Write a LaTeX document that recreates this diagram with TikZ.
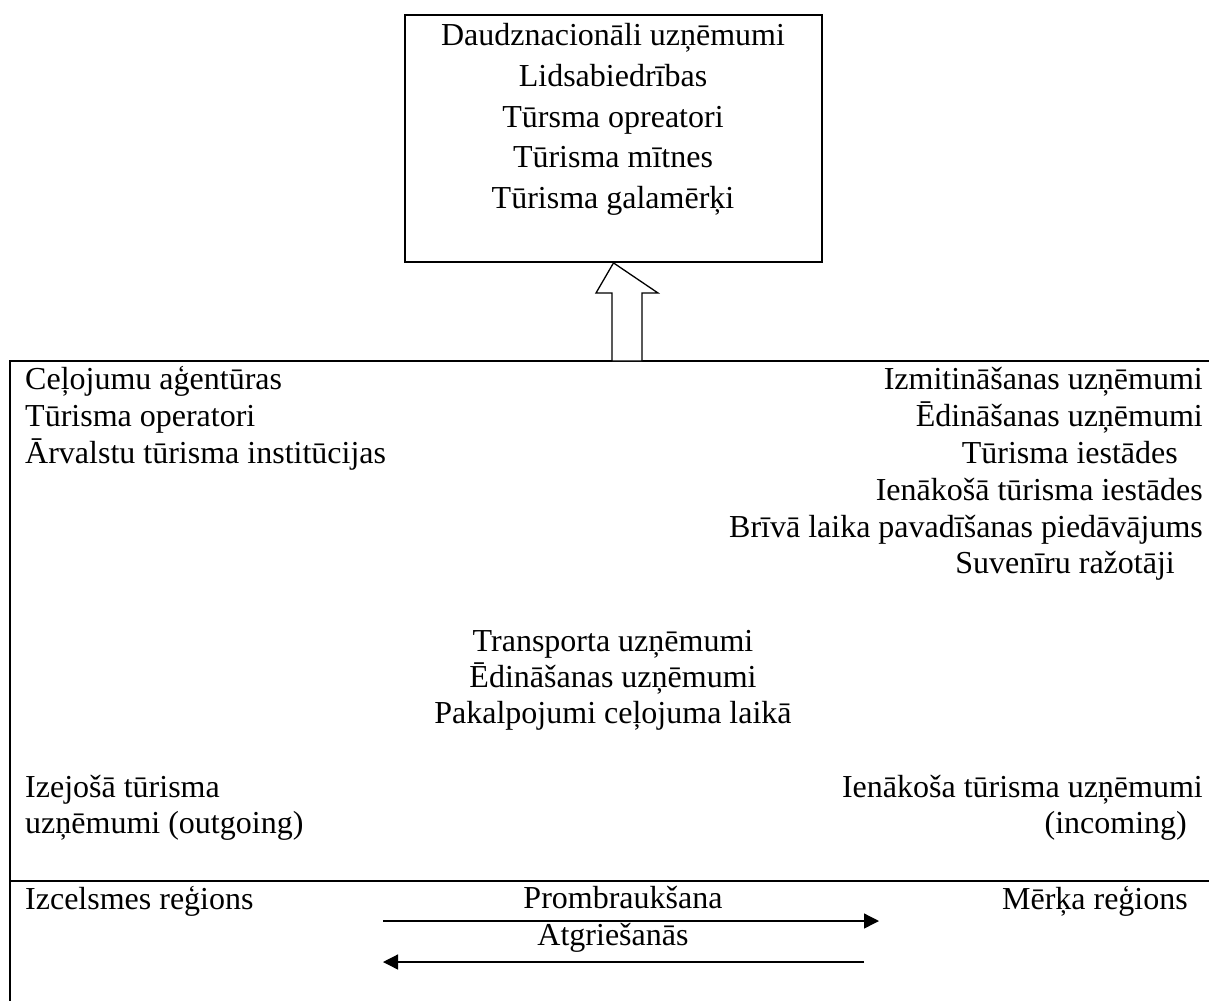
\documentclass[tikz,border=0pt]{standalone}
\usepackage{fontspec}
\setmainfont{Liberation Serif}
\usetikzlibrary{arrows.meta}
\begin{document}
\begin{tikzpicture}[x=1pt,y=-1pt,
  txt/.style={inner sep=0pt, font=\fontsize{32}{38}\selectfont},
  lt/.style={txt, anchor=base west},
  rt/.style={txt, anchor=base east},
  ct/.style={txt, anchor=base},
  frame/.style={line width=1.8pt},
  flow/.style={line width=1.3pt, -{Triangle[length=15pt,width=15pt]}}]
\useasboundingbox (0,0) rectangle (1209,1001);

% top box
\node[draw, frame, minimum width=417pt, minimum height=247pt, inner sep=0pt] (topbox) at (613.5,138.5) {};
\node[ct] (t1) at (613,45) {Daudznacionāli uzņēmumi};
\node[ct] (t2) at (613,86) {Lidsabiedrības};
\node[ct] (t3) at (613,127) {Tūrsma opreatori};
\node[ct] (t4) at (613,167) {Tūrisma mītnes};
\node[ct] (t5) at (613,208) {Tūrisma galamērķi};

% frame lines
\coordinate (ftl) at (10,361);
\coordinate (ftr) at (1209,361);
\coordinate (fbl) at (10,1001);
\coordinate (sl) at (10,881);
\coordinate (sr) at (1209,881);
\draw[frame] (ftr) -- (ftl) -- (fbl);
\draw[frame] (sl) -- (sr);

% block arrow
\draw[line width=1.3pt, fill=white] (612,361) -- (612,293) -- (596,293) -- (topbox.south) -- (658,293) -- (642,293) -- (642,361) -- cycle;

% left column
\node[lt] (l1) at (25,389) {Ceļojumu aģentūras};
\node[lt] (l2) at (25,426) {Tūrisma operatori};
\node[lt] (l3) at (25,463) {Ārvalstu tūrisma institūcijas};

% right column
\node[rt] (r1) at (1203,389) {Izmitināšanas uzņēmumi};
\node[rt] (r2) at (1203,426) {Ēdināšanas uzņēmumi};
\node[rt] (r3) at (1178,463) {Tūrisma iestādes};
\node[rt] (r4) at (1203,500) {Ienākošā tūrisma iestādes};
\node[rt] (r5) at (1203,537) {Brīvā laika pavadīšanas piedāvājums};
\node[rt] (r6) at (1175,573) {Suvenīru ražotāji};

% middle
\node[ct] (m1) at (613,651) {Transporta uzņēmumi};
\node[ct] (m2) at (613,687) {Ēdināšanas uzņēmumi};
\node[ct] (m3) at (613,723) {Pakalpojumi ceļojuma laikā};

% lower
\node[lt] (o1) at (25,797) {Izejošā tūrisma};
\node[lt] (o2) at (25,833) {uzņēmumi (outgoing)};
\node[rt] (i1) at (1203,797) {Ienākoša tūrisma uzņēmumi};
\node[rt] (i2) at (1187,833) {(incoming)};

% bottom
\node[lt] (b1) at (25,909) {Izcelsmes reģions};
\node[rt] (b2) at (1188,909) {Mērķa reģions};
\node[ct] (b3) at (623,908) {Prombraukšana};
\node[ct] (b4) at (613,945) {Atgriešanās};

\coordinate (a1s) at (383,921);
\coordinate (a1e) at (879,921);
\coordinate (a2s) at (864,962);
\coordinate (a2e) at (383,962);
\draw[flow] (a1s) -- (a1e);
\draw[flow] (a2s) -- (a2e);
\end{tikzpicture}
\end{document}
